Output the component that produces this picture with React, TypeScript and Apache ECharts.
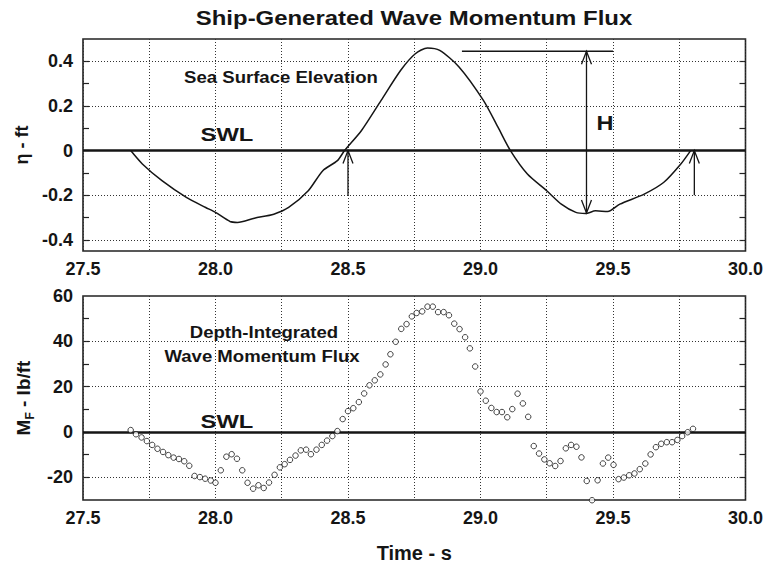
import React, { useEffect, useRef } from "react";
import * as echarts from "echarts";

// ---------- data ----------
const etaTime = [27.68, 27.724, 27.798, 27.89, 27.963, 28.0, 28.055, 28.083, 28.147, 28.22, 28.276, 28.35, 28.405, 28.46, 28.487, 28.551, 28.625, 28.699, 28.754, 28.8, 28.846, 28.919, 29.011, 29.066, 29.113, 29.177, 29.25, 29.305, 29.36, 29.397, 29.434, 29.48, 29.526, 29.618, 29.692, 29.756, 29.793];
const etaValues = [0, -0.06, -0.135, -0.21, -0.255, -0.277, -0.318, -0.322, -0.303, -0.285, -0.255, -0.18, -0.09, -0.045, 0, 0.09, 0.225, 0.36, 0.434, 0.46, 0.449, 0.375, 0.225, 0.105, 0, -0.105, -0.18, -0.24, -0.277, -0.282, -0.27, -0.273, -0.24, -0.195, -0.142, -0.06, 0];

const fluxTime = [27.68, 27.7, 27.721, 27.741, 27.761, 27.781, 27.802, 27.822, 27.842, 27.862, 27.882, 27.901, 27.921, 27.941, 27.961, 27.982, 28.0, 28.02, 28.041, 28.061, 28.081, 28.101, 28.121, 28.142, 28.162, 28.182, 28.202, 28.223, 28.243, 28.261, 28.281, 28.302, 28.322, 28.342, 28.36, 28.381, 28.401, 28.421, 28.441, 28.46, 28.48, 28.5, 28.52, 28.541, 28.561, 28.581, 28.601, 28.622, 28.642, 28.66, 28.68, 28.701, 28.721, 28.741, 28.759, 28.78, 28.8, 28.82, 28.84, 28.861, 28.881, 28.901, 28.921, 28.942, 28.96, 28.98, 29.0, 29.02, 29.041, 29.061, 29.081, 29.101, 29.12, 29.14, 29.16, 29.18, 29.201, 29.221, 29.241, 29.261, 29.282, 29.302, 29.322, 29.342, 29.362, 29.381, 29.401, 29.421, 29.442, 29.462, 29.482, 29.502, 29.521, 29.541, 29.561, 29.581, 29.601, 29.622, 29.642, 29.662, 29.682, 29.703, 29.723, 29.743, 29.761, 29.782, 29.802];
const fluxValues = [0.85, -1.0, -2.4, -4.0, -5.7, -7.4, -8.8, -10.2, -11.3, -11.9, -12.9, -14.9, -19.4, -19.9, -20.6, -21.4, -22.4, -16.9, -10.9, -9.8, -11.8, -16.9, -22.4, -25.0, -23.5, -24.7, -22.3, -18.9, -15.6, -14.2, -12.3, -10.4, -8.1, -7.8, -9.8, -7.8, -5.7, -3.8, -1.8, 0.4, 5.7, 9.2, 10.5, 13.2, 17.0, 20.6, 22.8, 25.4, 29.8, 34.3, 39.8, 45.5, 47.6, 51.0, 52.5, 53.2, 55.3, 55.3, 52.9, 52.9, 51.5, 47.8, 45.4, 41.8, 36.9, 28.9, 17.9, 13.8, 10.6, 8.8, 8.8, 6.5, 10.1, 16.9, 12.6, 6.7, -6.2, -9.5, -12.1, -13.8, -15.0, -12.8, -7.2, -5.7, -6.5, -11.2, -21.6, -30.1, -21.3, -13.9, -11.3, -14.5, -20.8, -20.1, -19.1, -18.3, -16.4, -13.9, -9.9, -6.7, -5.2, -4.5, -4.5, -3.5, -1.8, -0.1, 1.4];

// tick labels / tick positions
const topMajorTicks = [-0.4, -0.2, 0, 0.2, 0.4];
const topMinorTicks = [-0.4, -0.3, -0.2, -0.1, 0, 0.1, 0.2, 0.3, 0.4];
const topGridLines = [-0.4, -0.2, 0.2, 0.4];
const botMajorTicks = [-20, 0, 20, 40, 60];
const botMinorTicks = [-20, -10, 0, 10, 20, 30, 40, 50];
const botGridLines = [-20, 20, 40];

// annotation arrows: [x0, y0, x1, y1, headAtStart, headAtEnd]
const topArrows = [
  [28.5, -0.2, 28.5, 0, 0, 1],
  [29.807, -0.2, 29.807, 0, 0, 1],
  [29.4, 0.445, 29.4, -0.28, 1, 1],
  [28.93, 0.445, 29.5, 0.445, 0, 0],
];

const INK = "#151515";
const FONT = "'Liberation Sans', Arial, Helvetica, sans-serif";

function zip(a: number[], b: number[]) {
  return a.map((v, i) => [v, b[i]]);
}

function xLabel(v: number) {
  const k = Math.round(v * 4);
  return k % 2 === 0 ? v.toFixed(1) : "";
}

function makeXAxis(gridIndex: number, extra: any = {}) {
  return {
    type: "value",
    gridIndex,
    min: 27.5,
    max: 30,
    interval: 0.25,
    axisLine: { show: false },
    axisTick: { show: false },
    splitLine: { show: true, lineStyle: { type: [1, 2], color: "#333", width: 1 } },
    axisLabel: {
      formatter: xLabel,
      fontSize: 18,
      fontWeight: "bold",
      fontFamily: FONT,
      color: INK,
      margin: 9,
    },
    ...extra,
  };
}

function makeYAxes(gridIndex: number, min: number, max: number, major: number[], minor: number[], fmt: (v: number) => string, name: string, nameExtra: any) {
  const tick = { show: true, inside: true, length: 6, customValues: minor, lineStyle: { color: "#222", width: 1.2 } };
  return [
    {
      type: "value",
      gridIndex,
      position: "left",
      min,
      max,
      axisLine: { show: false },
      axisTick: tick,
      splitLine: { show: false },
      axisLabel: {
        customValues: major,
        formatter: fmt,
        fontSize: 18,
        fontWeight: "bold",
        fontFamily: FONT,
        color: INK,
        margin: 10,
      },
      name,
      nameLocation: "middle",
      nameRotate: 90,
      ...nameExtra,
    },
    {
      type: "value",
      gridIndex,
      position: "right",
      min,
      max,
      axisLine: { show: false },
      axisTick: tick,
      splitLine: { show: false },
      axisLabel: { show: false },
    },
  ];
}

function gridMarkLines(values: number[]) {
  return {
    silent: true,
    symbol: ["none", "none"],
    label: { show: false },
    animation: false,
    data: [
      ...values.map((v) => ({ yAxis: v, lineStyle: { type: [1, 2], width: 1, color: "#333" } })),
      { yAxis: 0, lineStyle: { type: "solid", width: 2.5, color: INK } },
    ],
  };
}

function arrowHead(tip: number[], from: number[]) {
  const dx = tip[0] - from[0];
  const dy = tip[1] - from[1];
  const len = Math.sqrt(dx * dx + dy * dy) || 1;
  const ux = dx / len;
  const uy = dy / len;
  const L = 13;
  const W = 5;
  return {
    type: "polyline",
    shape: {
      points: [
        [tip[0] - L * ux - W * uy, tip[1] - L * uy + W * ux],
        [tip[0], tip[1]],
        [tip[0] - L * ux + W * uy, tip[1] - L * uy - W * ux],
      ],
    },
    style: { stroke: INK, lineWidth: 1.3, fill: "none" },
  };
}

function txt(text: string, x: number, y: number, size: number, sx: number) {
  return {
    type: "text",
    x,
    y,
    scaleX: sx,
    z: 100,
    style: {
      text,
      font: `bold ${size}px ${FONT}`,
      fill: INK,
      textAlign: "center",
      textVerticalAlign: "middle",
    },
  };
}

export default function App() {
  const ref = useRef<HTMLDivElement>(null);
  useEffect(() => {
    if (!ref.current) return;
    const chart = echarts.init(ref.current, null, { renderer: "svg" });
    const option: any = {
      animation: false,
      backgroundColor: "#ffffff",
      graphic: [
        txt("Ship-Generated Wave Momentum Flux", 414, 18, 21, 1.14),
        txt("Sea Surface Elevation", 281, 77, 16, 1.16),
        txt("SWL", 227, 135, 19, 1.25),
        txt("H", 605, 123, 21, 1.12),
        txt("Depth-Integrated", 264, 332, 16, 1.16),
        txt("Wave Momentum Flux", 262, 356, 16, 1.16),
        txt("SWL", 227, 422, 19, 1.25),
      ],
      grid: [
        { left: 83, right: 19, top: 39, height: 212, show: true, borderColor: "#222", borderWidth: 1.6, backgroundColor: "transparent" },
        { left: 83, right: 19, top: 296, height: 213, show: true, borderColor: "#222", borderWidth: 1.6, backgroundColor: "transparent" },
      ],
      xAxis: [
        makeXAxis(0),
        makeXAxis(1, {
          name: "Time - s",
          nameLocation: "middle",
          nameGap: 43,
          nameTextStyle: { fontSize: 20, fontWeight: "bold", fontFamily: FONT, color: INK },
        }),
      ],
      yAxis: [
        ...makeYAxes(0, -0.45, 0.5, topMajorTicks, topMinorTicks, (v: number) => (v === 0 ? "0" : v.toFixed(1)), "η - ft", {
          nameGap: 52,
          nameTextStyle: { fontSize: 18, fontWeight: "bold", fontFamily: FONT, color: INK },
        }),
        ...makeYAxes(1, -30, 60, botMajorTicks, botMinorTicks, (v: number) => String(v), "{m|M}{s|F}{m| - lb/ft}", {
          nameGap: 48,
          nameTextStyle: {
            rich: {
              m: { fontSize: 19, fontWeight: "bold", fontFamily: FONT, color: INK, verticalAlign: "bottom" },
              s: { fontSize: 12, fontWeight: "bold", fontFamily: FONT, color: INK, verticalAlign: "bottom", padding: [0, 0, -3, 0] },
            },
          },
        }),
      ],
      series: [
        {
          type: "line",
          xAxisIndex: 0,
          yAxisIndex: 0,
          data: zip(etaTime, etaValues),
          showSymbol: false,
          smooth: 0.25,
          lineStyle: { color: INK, width: 1.5 },
          markLine: gridMarkLines(topGridLines),
          z: 5,
        },
        {
          type: "custom",
          xAxisIndex: 0,
          yAxisIndex: 0,
          data: topArrows,
          encode: { x: [0, 2], y: [1, 3] },
          z: 6,
          renderItem: (_params: any, api: any) => {
            const a = api.coord([api.value(0), api.value(1)]);
            const b = api.coord([api.value(2), api.value(3)]);
            const children: any[] = [
              { type: "line", shape: { x1: a[0], y1: a[1], x2: b[0], y2: b[1] }, style: { stroke: INK, lineWidth: 1.3 } },
            ];
            if (api.value(5)) children.push(arrowHead(b, a));
            if (api.value(4)) children.push(arrowHead(a, b));
            return { type: "group", children };
          },
        },
        {
          type: "scatter",
          xAxisIndex: 1,
          yAxisIndex: 2,
          data: zip(fluxTime, fluxValues),
          symbol: "circle",
          symbolSize: 5.5,
          clip: false,
          itemStyle: { color: "#ffffff", borderColor: INK, borderWidth: 1 },
          markLine: gridMarkLines(botGridLines),
          z: 5,
        },
      ],
    };
    chart.setOption(option);
    return () => chart.dispose();
  }, []);
  return <div ref={ref} style={{ width: 766, height: 564, position: "absolute", left: 0, top: 0 }} />;
}
